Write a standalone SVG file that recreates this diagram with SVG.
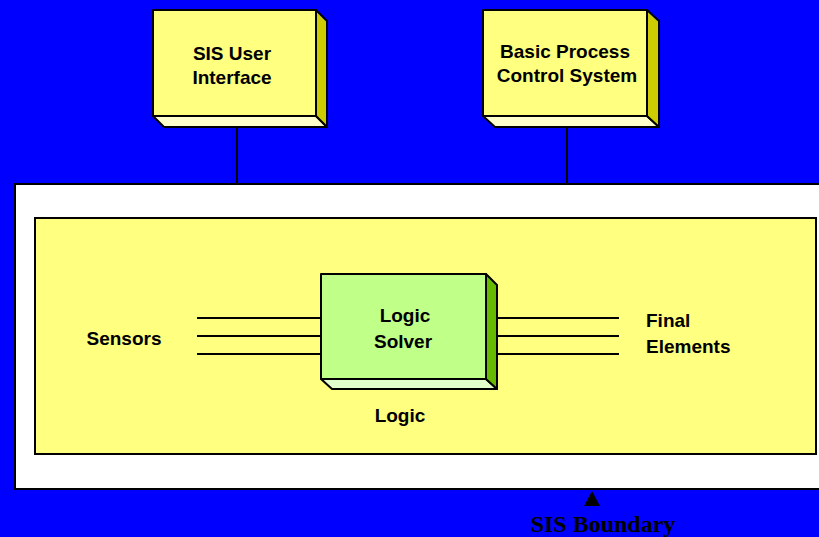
<svg xmlns="http://www.w3.org/2000/svg" width="819" height="537" viewBox="0 0 819 537">
<style>
.ln{stroke:#000;stroke-width:2;fill:none}
.bx{stroke:#000;stroke-width:2;stroke-linejoin:round}
.t{font-family:"Liberation Sans",Arial,sans-serif;font-weight:bold;font-size:19px;fill:#000;text-anchor:middle}
.s{font-family:"Liberation Serif","Times New Roman",serif;font-weight:bold;font-size:24px;fill:#000;text-anchor:middle}
</style>
<rect x="0" y="0" width="819" height="537" fill="#0000FF"/>
<g id="sis-boundary">
<rect x="15" y="184" width="820" height="305" fill="#FFFFFF" stroke="#000" stroke-width="2"/>
</g>
<g id="logic-area">
<rect x="35" y="218" width="781" height="236" fill="#FFFF80" stroke="#000" stroke-width="2"/>
<text class="t" x="400" y="422">Logic</text>
</g>
<g id="connectors">
<line class="ln" x1="237" y1="127" x2="237" y2="185"/>
<line class="ln" x1="567" y1="127" x2="567" y2="183"/>
<line class="ln" x1="197" y1="318" x2="321" y2="318"/>
<line class="ln" x1="197" y1="336" x2="321" y2="336"/>
<line class="ln" x1="197" y1="354" x2="321" y2="354"/>
<line class="ln" x1="497" y1="318" x2="619" y2="318"/>
<line class="ln" x1="497" y1="336" x2="619" y2="336"/>
<line class="ln" x1="497" y1="354" x2="619" y2="354"/>
</g>
<g id="sis-user-interface">
<polygon class="bx" points="153,116 316,116 327,127 164,127" fill="#FFFFCC"/>
<polygon class="bx" points="316,10 327,21 327,127 316,116" fill="#CCCC00"/>
<rect class="bx" x="153" y="10" width="163" height="106" fill="#FFFF80"/>
<text class="t" x="232" y="60">SIS User</text>
<text class="t" x="232" y="84">Interface</text>
</g>
<g id="bpcs">
<polygon class="bx" points="483,116 647,116 659,127 495,127" fill="#FFFFCC"/>
<polygon class="bx" points="647,10 659,21 659,127 647,116" fill="#CCCC00"/>
<rect class="bx" x="483" y="10" width="164" height="106" fill="#FFFF80"/>
<text class="t" x="565" y="58">Basic Process</text>
<text class="t" x="567" y="82">Control System</text>
</g>
<g id="logic-solver">
<polygon class="bx" points="321,379 486,379 497,389 332,389" fill="#E0FFCC"/>
<polygon class="bx" points="486,274 497,285 497,389 486,379" fill="#66BB00"/>
<rect class="bx" x="321" y="274" width="165" height="105" fill="#C0FF88"/>
<text class="t" x="405" y="322">Logic</text>
<text class="t" x="403" y="348">Solver</text>
</g>
<g id="sensors">
<text class="t" x="124" y="345">Sensors</text>
</g>
<g id="final-elements">
<text class="t" x="646" y="327" style="text-anchor:start">Final</text>
<text class="t" x="646" y="353" style="text-anchor:start">Elements</text>
</g>
<g id="boundary-label">
<polygon points="592,491 584,506 600,506" fill="#000"/>
<text class="s" x="603" y="532">SIS Boundary</text>
</g>
</svg>
